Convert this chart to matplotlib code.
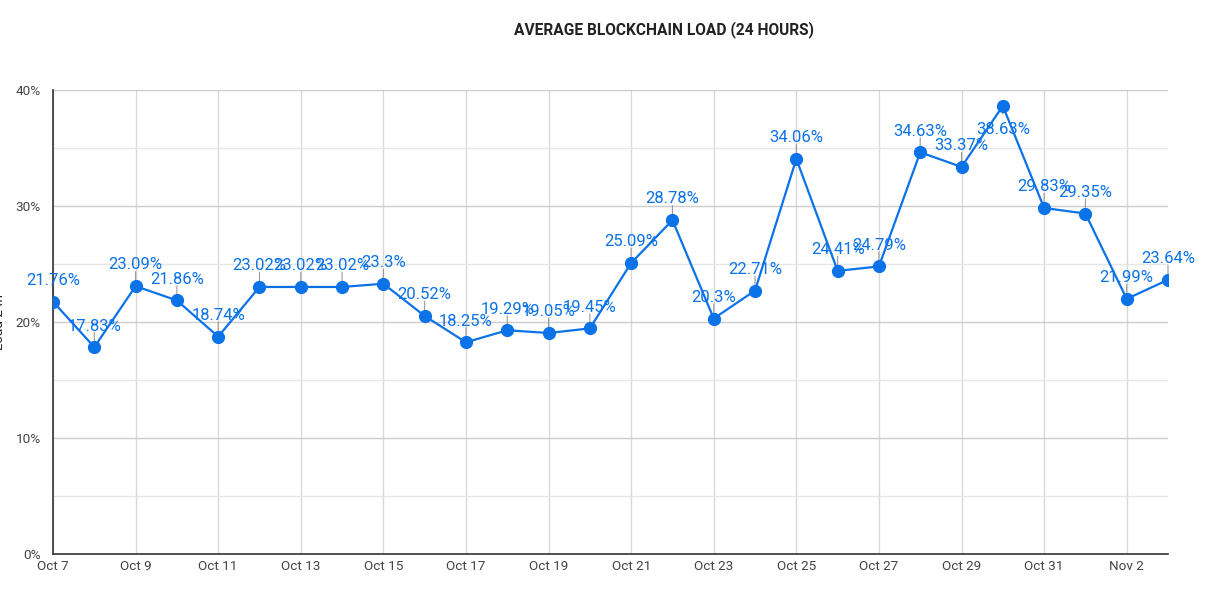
import matplotlib
matplotlib.use("Agg")
import matplotlib.pyplot as plt
from matplotlib.ticker import MultipleLocator, FuncFormatter
from matplotlib.transforms import offset_copy

days = ["Oct 7", "Oct 8", "Oct 9", "Oct 10", "Oct 11", "Oct 12", "Oct 13", "Oct 14",
        "Oct 15", "Oct 16", "Oct 17", "Oct 18", "Oct 19", "Oct 20", "Oct 21", "Oct 22",
        "Oct 23", "Oct 24", "Oct 25", "Oct 26", "Oct 27", "Oct 28", "Oct 29", "Oct 30",
        "Oct 31", "Nov 1", "Nov 2", "Nov 3"]
load = [21.76, 17.83, 23.09, 21.86, 18.74, 23.02, 23.02, 23.02, 23.3, 20.52, 18.25,
        19.29, 19.05, 19.45, 25.09, 28.78, 20.3, 22.71, 34.06, 24.41, 24.79, 34.63,
        33.37, 38.63, 29.83, 29.35, 21.99, 23.64]
label_text = ["21.76%", "17.83%", "23.09%", "21.86%", "18.74%", "23.02%", "23.02%", "23.02%",
              "23.3%", "20.52%", "18.25%", "19.29%", "19.05%", "19.45%", "25.09%", "28.78%",
              "20.3%", "22.71%", "34.06%", "24.41%", "24.79%", "34.63%", "33.37%", "38.63%",
              "29.83%", "29.35%", "21.99%", "23.64%"]

plt.rcParams['font.family'] = ['Roboto', 'DejaVu Sans']
blue = '#0b72e8'

fig = plt.figure(figsize=(12.15, 5.94), dpi=100)
ax = fig.add_axes([53/1215, 40/594, (1168-53)/1215, (554-90)/594])

x = list(range(len(days)))
ax.plot(x, load, color=blue, lw=1.6, marker='o', markersize=8.5, zorder=3)

ymax = 40
for xi, yi, t in zip(x, load, label_text):
    below = yi > 37
    if below:
        ax.annotate(t, xy=(xi, yi), xytext=(0, -11.5), textcoords='offset points',
                    ha='center', va='top', fontsize=12, color=blue, zorder=4,
                    annotation_clip=False)
        a, b = -4.3, -6
    else:
        ax.annotate(t, xy=(xi, yi), xytext=(0, 12), textcoords='offset points',
                    ha='center', va='baseline', fontsize=12, color=blue, zorder=4,
                    annotation_clip=False)
        a, b = 4.3, 10.5
    tr = offset_copy(ax.transData, fig=fig, x=0, y=a, units='points')
    tr2 = offset_copy(ax.transData, fig=fig, x=0, y=b, units='points')
    ax.annotate("", xy=(xi, yi), xycoords=tr, xytext=(xi, yi), textcoords=tr2,
                arrowprops=dict(arrowstyle='-', color='#999999', lw=0.8,
                                shrinkA=0, shrinkB=0),
                zorder=2, annotation_clip=False)

ax.set_xlim(0, len(days) - 1)
ax.set_ylim(0, ymax)
ax.set_xticks(x[::2])
ax.set_xticklabels(days[::2])
ax.yaxis.set_major_locator(MultipleLocator(10))
ax.yaxis.set_minor_locator(MultipleLocator(5))
ax.yaxis.set_major_formatter(FuncFormatter(lambda v, p: f"{int(v)}%"))
ax.tick_params(axis='both', which='both', length=0, labelsize=9.7, colors='#444444')
ax.tick_params(axis='y', pad=8.6)
ax.tick_params(axis='x', pad=4)

ax.grid(axis='y', which='major', color='#cccccc', lw=1)
ax.grid(axis='y', which='minor', color='#e6e6e6', lw=1)
ax.grid(axis='x', which='major', color='#d9d9d9', lw=1)
ax.set_axisbelow(True)

for s in ['top', 'right']:
    ax.spines[s].set_visible(False)
ax.spines['left'].set_color('#333333')
ax.spines['bottom'].set_color('#333333')
ax.spines['left'].set_linewidth(1.2)
ax.spines['bottom'].set_linewidth(1.2)

fig.text(-0.006, (594 - 322) / 594, "Load 24h", rotation=90, ha='left', va='center',
         fontsize=9.7, color='#222222')

fig.text(664 / 1215, 1 - 30 / 594, "AVERAGE BLOCKCHAIN LOAD (24 HOURS)", ha='center',
         va='center', fontsize=11.2, fontweight='bold', color='#222222')

fig.savefig("out.png", dpi=100)
